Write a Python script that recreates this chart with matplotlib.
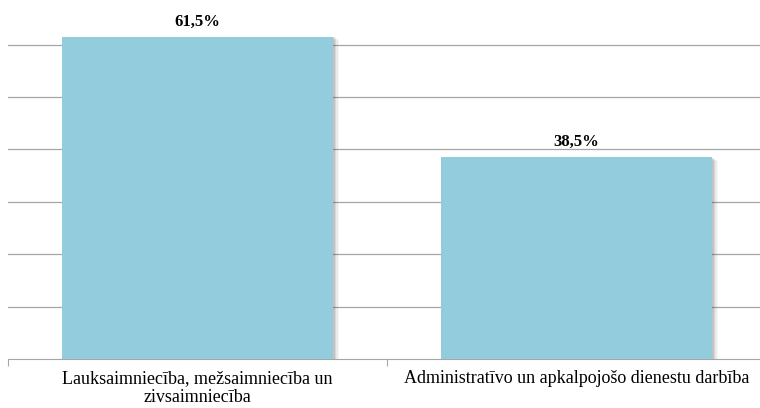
import matplotlib.pyplot as plt
from matplotlib.patches import Rectangle
import numpy as np

categories = ['Lauksaimniecība, mežsaimniecība un\nzivsaimniecība',
              'Administratīvo un apkalpojošo dienestu darbība']
values = [0.615, 0.385]
value_labels = ['61,5%', '38,5%']

plt.rcParams['font.family'] = ['Liberation Serif', 'DejaVu Serif']

fig = plt.figure(figsize=(7.6, 4.08), dpi=100)
ax = fig.add_axes([8 / 760, 49 / 408, 758 / 760, 0.7 * 524 / 408])

x = np.arange(len(values))
width = 0.715
bar_color = '#93CDDD'

# soft shadow behind bars
for xi, v in zip(x, values):
    for k, a in enumerate([0.14, 0.10, 0.07, 0.04]):
        dx = 0.005 + k * 0.004
        dy = 0.003 + k * 0.002
        ax.add_patch(Rectangle((xi - width / 2 + dx, -dy), width, v + 0.002,
                               facecolor='#404040', alpha=a, lw=0, zorder=2))

ax.bar(x, values, width=width, color=bar_color, zorder=3)

for xi, v, lab in zip(x, values, value_labels):
    ax.annotate(lab, (xi, v), xytext=(0, 5), textcoords='offset points',
                ha='center', va='bottom', fontsize=12, fontweight='bold')

ax.set_xlim(-0.5, 1.5)
ax.set_ylim(0, 0.7)
ax.set_yticks(np.arange(0.1, 0.71, 0.1))
ax.yaxis.grid(True, color='#A6A6A6', lw=0.9)
ax.set_axisbelow(True)
ax.tick_params(axis='y', left=False, labelleft=False)

ax.set_xticks([-0.5, 0.5, 1.5])
ax.set_xticklabels([])
ax.set_xticks(x, minor=True)
ax.set_xticklabels(categories, minor=True, fontsize=13, linespacing=1.18)
ax.tick_params(axis='x', which='major', length=5, color='#A6A6A6', direction='out')
ax.tick_params(axis='x', which='minor', length=0, pad=8)

for s in ['left', 'right', 'top']:
    ax.spines[s].set_visible(False)
ax.spines['bottom'].set_color('#A6A6A6')

fig.savefig('out.png', dpi=100)
